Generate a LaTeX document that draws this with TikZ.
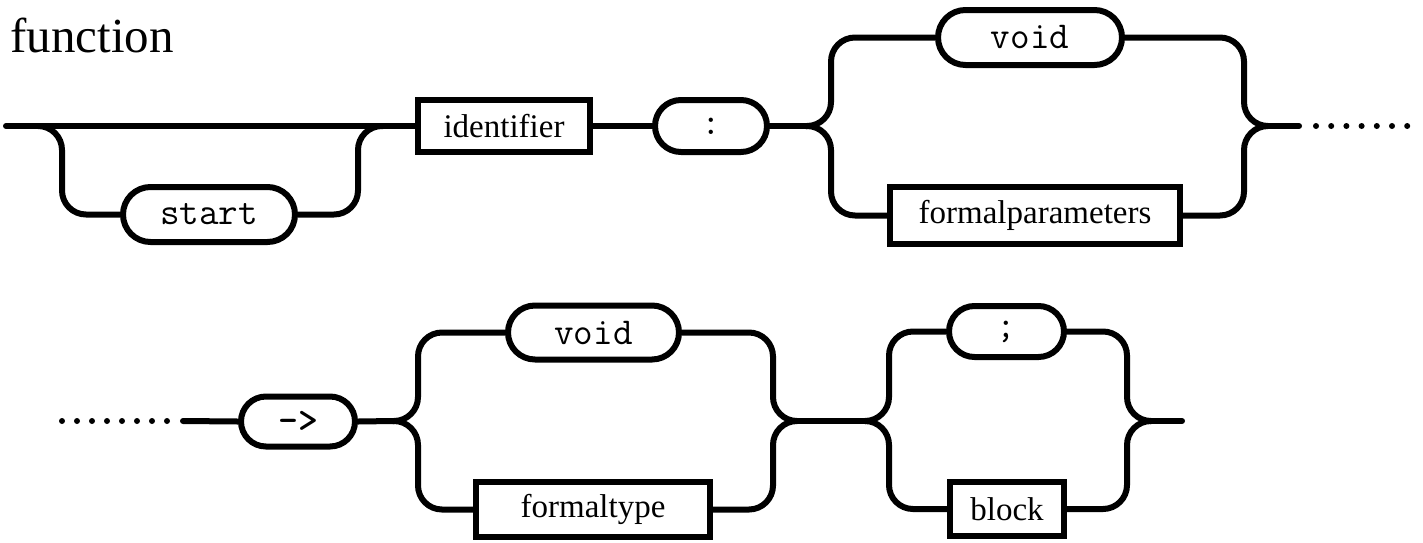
\documentclass[tikz,border=0pt]{standalone}
\usepackage{fontspec}
\setmainfont{Liberation Serif}
\usetikzlibrary{shapes.misc}
\begin{document}
\begin{tikzpicture}[x=0.5pt,y=-0.5pt,
  rail/.style={line width=3pt,line cap=round,rounded corners=12pt},
  term/.style={draw,rounded rectangle,line width=3pt,inner sep=0pt,font=\fontsize{19}{22}\selectfont\ttfamily},
  nonterm/.style={draw,rectangle,line width=3pt,inner sep=0pt,font=\fontsize{16.5}{20}\selectfont}]
\useasboundingbox (0,0) rectangle (1423,542);
\node[anchor=base west,inner sep=0pt,font=\fontsize{24.5}{28}\selectfont] (t) at (10,52) {function};

% first row
\node[term,minimum width=86pt,minimum height=27.5pt] (1) at (209,214.5) {start};
\node[nonterm,minimum width=86pt,minimum height=26pt] (2) at (504,126) {identifier};
\node[term,minimum width=56pt,minimum height=26pt] (3) at (711,126) {:};
\node[term,minimum width=92pt,minimum height=27.5pt] (4) at (1030,37.5) {void};
\node[nonterm,minimum width=145pt,minimum height=28.5pt] (5) at (1035,215.5) {formalparameters};

\coordinate (a) at (6,126);
\coordinate (b) at (38,126);
\coordinate (va) at (62,126);
\coordinate (vb) at (358,126);
\coordinate (c) at (383,126);
\coordinate (d) at (806,126);
\coordinate (vc) at (831,126);
\coordinate (vd) at (1244,126);
\coordinate (e) at (1268,126);
\coordinate (f) at (1299,126);

\draw[rail] (a) -- (2.west);
\draw[rail] (b) -| (va |- 1.west) -- (1.west);
\draw[rail] (1.east) -| (vb) -- (c);
\draw[rail] (2.east) -- (3.west);
\draw[rail] (3.east) -- (d);
\draw[rail] (d) -| (vc |- 4.west) -- (4.west);
\draw[rail] (d) -| (vc |- 5.west) -- (5.west);
\draw[rail] (4.east) -| (vd) -- (e);
\draw[rail] (5.east) -| (vd) -- (e);
\draw[rail] (e) -- (f);
\foreach \i in {0,...,6}
  \fill (1316+15.2*\i,126) circle[radius=1.5pt];

% second row
\node[term,minimum width=57pt,minimum height=25pt,font=\fontsize{19}{22}\selectfont\ttfamily\bfseries] (6) at (298,421.5) {->};
\node[term,minimum width=85.5pt,minimum height=27pt] (7) at (593.5,332.5) {void};
\node[nonterm,minimum width=117pt,minimum height=27.5pt] (8) at (593,509.5) {formaltype};
\node[term,minimum width=57.5pt,minimum height=25.5pt] (9) at (1006.5,331.5) {;};
\node[nonterm,minimum width=57pt,minimum height=27pt] (10) at (1007,509) {block};

\coordinate (g) at (183,421);
\coordinate (h) at (393,421);
\coordinate (vh) at (418,421);
\coordinate (vi) at (773,421);
\coordinate (i) at (797,421);
\coordinate (j) at (866,421);
\coordinate (vj) at (889,421);
\coordinate (vk) at (1127,421);
\coordinate (k) at (1150,421);
\coordinate (l) at (1182,421);

\foreach \i in {0,...,7}
  \fill (62+15*\i,421) circle[radius=1.5pt];
\draw[rail] (g) -- (6.west);
\draw[rail] (6.east) -- (h);
\draw[rail] (h) -| (vh |- 7.west) -- (7.west);
\draw[rail] (h) -| (vh |- 8.west) -- (8.west);
\draw[rail] (7.east) -| (vi) -- (i);
\draw[rail] (8.east) -| (vi) -- (i);
\draw[rail] (i) -- (j);
\draw[rail] (j) -| (vj |- 9.west) -- (9.west);
\draw[rail] (j) -| (vj |- 10.west) -- (10.west);
\draw[rail] (9.east) -| (vk) -- (k);
\draw[rail] (10.east) -| (vk) -- (k);
\draw[rail] (k) -- (l);
\end{tikzpicture}
\end{document}
